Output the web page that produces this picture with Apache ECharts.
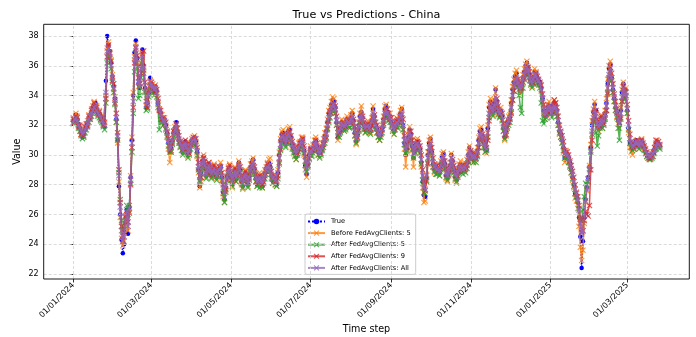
<!DOCTYPE html>
<html>
<head>
<meta charset="utf-8">
<script src="https://cdn.jsdelivr.net/npm/echarts@6.0.0/dist/echarts.min.js"></script>
<style>html,body{margin:0;padding:0;background:#fff}#c{width:696px;height:337px}</style>
</head>
<body>
<div id="c"></div>
<script>
// x values are day offsets from 01/01/2024 (one value per day)
const tickDays = [0,60,121,182,244,305,366,425];
const tickLabels = ['01/01/2024','01/03/2024','01/05/2024','01/07/2024','01/09/2024','01/11/2024','01/01/2025','01/03/2025'];
const yTicks = [22,24,26,28,30,32,34,36,38];
const seriesNames = ['True','Before FedAvgClients: 5','After FedAvgClients: 5','After FedAvgClients: 9','After FedAvgClients: All'];

const trueVals = [
32.3,32.5,32.7,32.4,32.1,31.8,31.5,31.2,31.4,31.7,
31.9,32.2,32.5,32.7,32.9,33.2,33.4,33.5,33.1,32.9,
32.8,32.6,32.4,32.2,31.9,35.0,38.0,37.4,37.0,36.2,
35.3,34.6,33.8,32.4,31.0,27.9,26.0,24.3,23.4,24.0,
25.5,26.3,24.7,26.5,28.5,31.0,34.0,36.9,37.7,36.5,
34.8,34.5,36.0,37.1,36.0,34.5,33.2,33.5,34.2,35.2,
34.8,34.6,34.4,34.6,34.3,33.5,33.0,32.8,32.5,32.3,
32.4,32.0,31.5,30.8,30.2,30.5,31.0,31.5,31.8,32.2,
31.5,31.0,30.8,30.5,30.2,30.6,30.9,30.5,30.0,30.3,
30.7,31.0,31.1,31.2,30.9,30.2,29.0,27.9,28.8,29.6,
29.9,29.3,28.6,29.0,29.4,29.0,28.6,28.9,29.2,28.8,
28.5,28.9,29.1,29.3,28.5,27.5,27.0,27.8,28.6,29.0,
29.2,28.5,28.0,28.6,29.0,28.4,28.8,29.5,29.0,28.2,
27.9,28.5,28.8,28.3,28.0,28.6,29.2,29.5,29.7,29.0,
28.4,28.0,28.3,28.6,28.2,27.9,28.4,28.8,29.1,29.3,
29.5,29.2,28.6,28.3,28.5,28.2,28.0,28.8,30.0,31.0,
31.4,31.5,31.2,30.8,31.2,31.6,31.7,31.2,30.7,30.4,
30.2,29.9,30.3,30.6,30.8,31.0,31.1,30.3,29.3,28.7,
29.4,30.0,30.4,30.2,30.5,30.8,31.0,30.6,30.2,30.0,
30.3,30.6,30.9,31.3,31.6,32.2,32.8,33.0,33.4,33.7,
33.6,33.2,32.2,31.2,31.5,31.9,32.2,32.0,31.8,32.1,
32.4,32.2,32.0,32.5,32.8,32.3,31.5,30.9,31.4,32.0,
32.6,32.9,32.5,32.0,31.7,31.9,32.1,31.8,31.6,32.3,
33.1,32.6,32.0,31.7,31.4,31.2,31.5,31.8,32.4,33.1,
33.3,32.9,32.6,32.6,32.2,31.9,31.6,32.0,32.3,32.1,
32.4,32.8,33.1,32.0,30.8,30.0,30.4,31.2,31.7,31.4,
30.6,29.8,30.3,30.8,30.9,30.6,30.4,29.5,28.2,27.3,
27.2,28.5,30.0,30.8,31.1,30.2,29.4,29.0,29.3,28.9,
29.1,28.8,29.4,29.9,30.1,29.4,28.6,28.4,28.8,29.3,
30.0,29.6,29.0,28.5,28.3,28.8,29.2,29.4,29.1,29.0,
29.3,29.1,29.5,30.0,30.5,30.2,29.9,29.7,30.0,29.8,
30.3,31.0,31.6,31.7,31.3,30.8,30.4,30.3,31.8,33.2,
33.6,33.3,32.9,33.5,34.4,33.6,33.0,32.8,33.0,32.6,
31.8,31.2,31.6,32.2,32.4,32.5,33.5,34.4,34.9,35.3,
35.5,35.0,34.6,34.3,34.8,35.2,35.6,36.0,36.2,35.9,
35.4,35.0,34.8,35.2,35.6,35.5,35.2,35.0,34.9,34.5,
33.8,33.0,32.6,32.8,33.2,33.4,33.2,32.8,33.3,33.5,
33.4,33.0,32.2,31.6,31.4,31.0,30.5,29.8,30.2,30.0,
29.8,29.5,29.0,28.5,28.0,27.4,27.2,26.8,25.8,24.5,
22.4,24.2,25.8,27.0,27.8,28.5,29.2,30.5,32.0,32.9,
33.4,33.0,32.0,31.8,32.2,32.5,32.0,32.3,32.8,33.5,
34.8,35.8,36.1,35.2,34.4,33.8,33.2,32.8,32.3,32.0,
33.0,34.2,34.8,34.0,34.4,33.0,31.8,30.8,30.7,30.4,
30.6,30.8,31.0,30.8,30.6,30.9,31.0,30.7,30.5,30.2,
30.0,29.9,29.8,29.9,30.0,30.1,30.4,30.7,30.9,30.7,30.6
];

const beforeFed5 = [
32.5,32.3,32.8,32.6,32.0,31.9,31.4,31.3,31.5,31.8,
32.0,32.3,32.7,32.6,33.1,33.3,33.6,33.4,33.3,32.8,
33.0,32.6,32.5,32.1,32.1,34.0,37.2,37.6,36.8,36.4,
35.4,34.4,33.9,32.2,30.8,28.2,25.8,24.4,23.9,24.2,
25.2,26.0,24.9,26.2,28.6,31.2,34.2,36.6,37.5,36.2,
34.6,34.8,36.2,36.9,35.7,34.3,33.3,33.7,34.4,35.0,
34.6,34.8,34.2,34.7,34.1,33.4,33.1,32.6,32.7,32.2,
32.5,31.8,31.3,30.4,29.5,30.2,31.1,31.6,31.9,32.1,
31.3,30.9,30.6,30.6,30.1,30.8,30.7,30.3,29.9,30.5,
30.8,31.1,31.0,31.3,30.7,29.9,28.8,27.8,28.2,29.7,
30.0,29.1,28.5,29.2,29.5,28.8,28.5,29.1,29.4,28.6,
28.4,29.1,29.2,29.5,28.2,27.2,26.8,27.6,28.8,29.2,
29.4,28.3,27.8,28.7,29.2,28.2,29.0,29.6,28.8,28.0,
27.7,28.6,29.0,28.1,27.9,28.8,29.4,29.6,29.8,28.8,
28.2,27.9,28.5,28.8,28.0,27.8,28.6,29.0,29.2,29.5,
29.7,29.8,28.5,28.1,28.6,28.0,27.9,29.0,30.2,31.1,
31.6,31.7,31.0,30.6,31.4,31.8,31.9,31.0,30.5,30.2,
30.0,29.7,30.5,30.8,30.9,31.2,31.2,30.0,29.0,28.5,
29.6,30.2,30.6,30.0,30.7,31.0,31.2,30.4,30.0,29.9,
30.5,30.8,31.1,31.5,31.8,32.4,33.0,33.2,33.6,33.9,
33.8,33.0,32.0,31.0,31.7,32.1,32.4,31.8,31.7,32.3,
32.6,32.0,31.9,32.7,33.0,32.1,31.3,30.7,31.6,32.2,
32.8,33.3,32.4,31.8,31.5,32.1,32.3,31.6,31.5,32.5,
33.3,32.4,31.8,31.5,31.2,31.0,31.7,32.0,32.6,33.3,
33.4,32.8,32.4,32.8,32.0,31.7,31.4,32.2,32.5,31.9,
32.6,33.0,33.2,31.7,30.4,29.2,30.2,31.4,31.9,31.2,
30.3,29.2,30.5,31.0,31.1,30.4,30.2,29.2,27.8,26.8,
26.9,28.7,30.2,31.0,31.2,30.0,29.2,28.8,29.4,28.7,
29.2,28.6,29.6,30.1,30.2,29.2,28.4,28.2,29.0,29.5,
30.1,29.4,28.8,28.3,28.1,29.0,29.4,29.6,29.0,28.9,
29.5,29.0,29.7,30.2,30.6,30.0,29.7,29.5,30.2,29.7,
30.5,31.2,31.8,31.9,31.2,30.6,30.2,30.1,32.0,33.4,
33.8,33.1,32.7,33.7,34.5,33.4,32.8,32.6,33.2,32.4,
31.6,31.0,31.8,32.4,32.6,32.7,33.7,34.6,35.1,35.5,
35.7,34.8,34.4,34.1,35.0,35.4,35.8,36.1,36.3,35.8,
35.2,34.8,34.6,35.4,35.8,35.6,35.0,34.8,34.7,34.3,
33.6,32.8,32.4,32.9,33.4,33.6,33.0,32.6,33.4,33.7,
33.5,32.8,32.0,31.4,31.2,30.8,30.2,29.5,30.3,29.9,
29.6,29.3,28.8,28.3,27.8,27.1,26.9,26.4,25.2,23.8,
22.9,23.6,25.4,26.8,27.6,28.4,29.3,30.7,32.3,33.1,
33.6,32.8,31.8,31.6,32.3,32.7,31.8,32.4,33.0,33.8,
35.1,36.0,36.3,35.0,34.2,33.6,33.0,32.6,32.1,31.8,
33.2,34.4,34.9,33.8,34.5,32.8,31.5,30.5,30.2,30.0,
30.4,30.7,31.0,30.7,30.4,30.9,31.1,30.6,30.4,30.1,
29.9,29.8,29.7,29.9,30.1,30.2,30.5,30.8,31.0,30.6,30.5
];

const afterFed5 = [
32.1,32.3,32.4,32.2,31.8,31.6,31.3,31.1,31.2,31.5,
31.7,32.0,32.2,32.5,32.6,32.9,33.1,33.2,32.8,32.6,
32.5,32.3,32.2,31.9,31.7,33.5,36.2,36.9,36.5,35.8,
34.9,34.2,33.4,32.2,31.0,28.8,27.0,25.6,24.9,25.0,
25.8,26.6,26.0,26.6,28.1,30.2,32.8,35.6,36.8,35.9,
33.8,34.0,35.2,36.3,35.5,34.2,33.0,33.1,33.9,34.6,
34.4,34.2,34.0,34.3,33.9,33.2,31.7,32.4,32.2,32.0,
32.1,31.7,31.2,30.6,30.2,30.2,30.7,31.2,31.5,31.8,
31.3,30.8,30.5,30.3,30.0,30.3,30.6,30.2,29.8,30.0,
30.4,30.7,30.8,30.9,30.6,30.0,29.0,28.2,28.5,29.1,
29.5,29.0,28.4,28.7,29.1,28.7,28.4,28.6,28.9,28.5,
28.3,28.6,28.8,29.0,28.3,27.4,26.8,27.5,28.3,28.7,
28.9,28.3,27.9,28.3,28.7,28.2,28.5,29.1,28.8,28.1,
27.8,28.2,28.5,28.1,27.8,28.3,28.8,29.1,29.3,28.7,
28.2,27.9,28.0,27.8,27.9,27.8,28.1,28.4,28.7,29.0,
29.1,28.9,28.4,28.1,28.2,28.0,27.9,28.4,29.4,30.3,
30.8,31.0,30.8,30.5,30.8,31.1,31.2,30.8,30.4,30.1,
29.9,29.7,30.0,30.2,30.4,30.6,30.7,30.1,29.3,28.9,
29.2,29.7,30.0,29.9,30.1,30.4,30.6,30.3,30.0,29.8,
30.0,30.3,30.5,30.8,31.1,31.7,32.2,32.5,32.8,33.1,
33.1,32.8,32.0,31.3,31.2,31.5,31.8,31.7,31.6,31.7,
32.0,31.9,31.8,32.1,32.3,31.9,31.3,30.8,31.1,31.6,
32.1,32.4,32.1,31.7,31.5,31.6,31.7,31.5,31.4,31.9,
32.5,32.2,31.7,31.5,31.2,31.0,31.2,31.5,32.0,32.5,
32.7,32.5,32.3,32.2,31.9,31.6,31.4,31.7,31.9,31.8,
32.0,32.3,32.5,31.7,30.7,30.1,30.3,30.8,31.2,31.0,
30.4,29.8,30.1,30.4,30.5,30.3,30.1,29.4,28.3,27.5,
27.4,28.3,29.5,30.2,30.5,29.9,29.2,28.9,28.7,28.7,
28.8,28.6,29.0,29.4,29.6,29.1,28.5,28.3,28.6,28.9,
29.5,29.2,28.8,28.4,28.2,28.5,28.8,29.0,28.8,28.7,
28.9,28.8,29.1,29.5,29.9,29.8,29.6,29.5,29.6,29.5,
29.9,30.5,31.0,31.2,30.9,30.5,30.2,30.3,31.2,32.5,
33.0,32.9,32.6,33.0,33.6,33.2,32.7,32.5,32.6,32.3,
31.6,31.1,31.3,31.8,32.0,32.2,32.9,33.7,34.3,34.7,
34.9,34.6,34.0,33.2,32.8,34.5,35.1,35.4,35.6,35.4,
35.0,34.7,34.5,34.8,35.1,35.1,34.8,34.7,34.5,33.5,
32.3,32.1,32.4,32.5,32.8,33.0,32.8,32.5,32.9,33.0,
32.9,32.6,32.0,31.5,31.2,30.8,30.3,29.8,29.9,29.7,
29.5,29.2,28.8,28.4,27.9,27.4,27.2,26.9,26.4,25.8,
25.5,26.3,27.2,28.1,28.0,28.2,29.0,30.2,31.4,32.2,
32.6,31.5,30.6,31.3,31.8,32.1,31.8,32.0,32.4,33.0,
34.2,35.1,35.6,35.0,34.2,33.6,33.0,32.5,31.8,31.0,
32.4,33.6,34.2,33.7,33.9,32.8,31.7,30.8,30.5,30.3,
30.4,30.6,30.7,30.6,30.4,30.6,30.7,30.5,30.3,30.1,
29.9,29.8,29.7,29.7,29.8,29.9,30.1,30.4,30.6,30.5,30.4
];

const afterFed9 = [
32.4,32.2,32.6,32.5,31.9,32.0,31.4,31.6,31.3,31.9,
32.1,31.9,32.6,32.4,33.0,33.1,33.5,33.3,33.2,32.7,
32.9,32.4,32.5,32.0,32.2,33.8,36.6,37.4,36.9,36.3,
35.0,34.8,33.5,32.8,31.5,29.0,26.8,25.2,24.3,24.8,
25.9,26.0,25.5,26.1,28.0,30.5,33.2,36.2,37.2,36.7,
35.2,34.8,35.5,36.8,37.0,34.9,33.6,33.2,34.3,34.7,
34.9,34.3,34.6,34.3,34.4,33.8,33.0,33.0,32.4,32.5,
32.1,32.2,31.6,31.1,30.6,30.3,30.8,31.6,31.5,32.1,
31.8,31.3,30.9,30.8,30.4,30.4,31.0,30.7,30.2,30.1,
30.7,30.8,31.2,31.0,31.1,30.5,29.5,28.6,28.5,29.3,
29.8,29.6,28.9,28.8,29.5,29.2,28.8,28.7,29.3,29.0,
28.7,28.8,29.2,29.0,28.8,28.0,27.6,27.7,28.4,29.1,
29.3,28.8,28.3,28.4,29.1,28.7,28.6,29.2,29.2,28.6,
28.3,28.4,28.9,28.6,28.2,28.4,28.9,29.4,29.3,29.2,
28.7,28.3,28.1,28.6,28.5,28.0,28.2,28.6,28.9,29.4,
29.2,29.3,28.9,28.6,28.3,28.5,28.3,28.6,29.5,30.4,
31.0,31.4,31.3,30.9,30.9,31.3,31.6,31.3,30.9,30.6,
30.5,30.2,30.1,30.4,30.8,30.8,31.1,30.6,29.9,29.4,
29.3,29.8,30.4,30.4,30.3,30.6,31.0,30.8,30.4,30.2,
30.1,30.4,30.7,31.0,31.2,31.8,32.3,32.9,33.0,33.3,
33.5,33.3,32.6,31.8,31.4,31.7,32.0,32.2,32.0,31.9,
32.2,32.4,32.2,32.3,32.5,32.4,31.9,31.3,31.2,31.7,
32.2,32.6,32.6,32.2,31.9,31.8,32.1,32.0,31.8,32.0,
32.6,32.7,32.2,32.0,31.6,31.5,31.4,31.7,32.1,32.6,
33.0,33.1,32.8,32.4,32.5,32.1,31.8,31.9,32.3,32.4,
32.2,32.5,32.7,32.4,31.3,30.7,30.5,30.9,31.4,31.6,
31.0,30.4,30.2,30.5,30.9,30.8,30.6,30.0,29.0,28.2,
27.6,28.2,29.4,30.2,30.7,30.5,29.8,29.4,29.2,29.3,
29.0,29.1,29.2,29.5,29.8,29.6,29.1,28.7,28.7,29.0,
29.5,29.7,29.3,28.9,28.6,28.6,28.9,29.2,29.3,29.1,
29.0,29.2,29.3,29.6,30.0,30.3,30.1,29.9,29.8,30.0,
30.0,30.5,31.0,31.4,31.4,31.1,30.7,30.5,31.0,32.3,
33.0,33.4,33.1,33.1,33.6,33.8,33.3,32.9,32.7,32.8,
32.1,31.4,31.4,31.9,32.2,32.4,32.8,33.7,34.3,34.8,
35.1,35.1,34.8,34.5,34.5,34.9,35.2,35.5,35.8,35.9,
35.6,35.2,34.9,34.9,35.2,35.5,35.3,35.1,34.9,34.7,
34.1,33.4,32.9,32.7,32.9,33.2,33.3,33.0,32.9,33.7,
33.5,33.2,32.6,32.0,31.6,31.3,30.9,30.3,30.0,30.2,
30.0,29.6,29.3,28.9,28.5,28.0,27.5,27.2,26.6,25.7,
24.8,24.9,25.6,26.2,26.0,25.9,26.6,29.0,31.0,32.3,
32.9,33.0,32.4,32.0,31.9,32.6,32.3,32.1,32.5,33.0,
34.1,35.2,35.9,35.5,34.8,34.1,33.6,33.1,32.6,32.2,
32.5,33.6,34.6,34.3,34.0,33.4,32.3,31.4,30.9,30.6,
30.5,30.7,30.9,31.0,30.7,30.7,31.0,30.8,30.6,30.4,
30.2,30.0,29.8,29.8,29.9,30.2,30.5,31.0,30.7,30.9,30.7
];

const afterFedAll = [
32.2,32.4,32.5,32.3,32.0,31.8,31.6,31.4,31.5,31.7,
31.9,32.1,32.4,32.6,32.8,33.0,33.2,33.3,33.0,32.8,
32.7,32.5,32.3,32.1,32.0,34.2,37.0,37.2,36.8,36.0,
35.2,34.5,33.7,32.5,31.3,28.6,26.5,24.9,24.2,24.5,
25.6,26.2,25.2,26.4,28.3,30.8,33.6,36.4,37.3,36.4,
34.9,34.6,35.8,36.7,35.9,34.5,33.4,33.5,34.1,34.9,
34.7,34.5,34.4,34.5,34.2,33.6,33.1,32.8,32.5,32.3,
32.3,32.0,31.5,30.9,30.4,30.5,30.9,31.4,31.7,32.0,
31.5,31.1,30.8,30.6,30.3,30.6,30.8,30.5,30.1,30.3,
30.6,30.9,31.0,31.1,30.9,30.3,29.2,28.3,28.8,29.4,
29.7,29.3,28.7,29.0,29.3,29.0,28.7,28.9,29.1,28.8,
28.6,28.9,29.0,29.2,28.6,27.8,27.4,27.9,28.5,28.9,
29.1,28.6,28.2,28.6,28.9,28.5,28.8,29.3,29.0,28.4,
28.1,28.5,28.7,28.4,28.1,28.5,29.0,29.3,29.5,29.0,
28.5,28.2,28.3,28.5,28.3,28.1,28.4,28.7,29.0,29.2,
29.3,29.1,28.7,28.4,28.5,28.3,28.2,28.8,29.8,30.7,
31.2,31.3,31.1,30.8,31.1,31.4,31.5,31.1,30.7,30.5,
30.3,30.1,30.3,30.5,30.7,30.9,31.0,30.4,29.6,29.1,
29.5,30.0,30.3,30.2,30.4,30.7,30.9,30.6,30.3,30.1,
30.3,30.5,30.8,31.1,31.4,32.0,32.5,32.8,33.1,33.4,
33.4,33.1,32.3,31.5,31.6,31.8,32.1,32.0,31.9,32.0,
32.3,32.2,32.1,32.4,32.6,32.2,31.6,31.1,31.4,31.9,
32.4,32.7,32.4,32.0,31.8,31.9,32.0,31.8,31.7,32.2,
32.8,32.5,32.0,31.8,31.5,31.3,31.5,31.8,32.3,32.8,
33.0,32.8,32.6,32.5,32.2,31.9,31.7,32.0,32.2,32.1,
32.3,32.6,32.8,32.0,31.0,30.4,30.6,31.1,31.5,31.3,
30.7,30.1,30.4,30.7,30.8,30.6,30.4,29.7,28.6,27.8,
27.7,28.6,29.8,30.5,30.8,30.2,29.5,29.2,29.3,29.0,
29.1,28.9,29.3,29.7,29.9,29.4,28.8,28.6,28.9,29.2,
29.8,29.5,29.1,28.7,28.5,28.8,29.1,29.3,29.1,29.0,
29.2,29.1,29.4,29.8,30.2,30.1,29.9,29.8,29.9,29.8,
30.2,30.8,31.3,31.5,31.2,30.8,30.5,30.4,31.5,32.8,
33.3,33.2,32.9,33.3,33.9,33.5,33.0,32.8,32.9,32.6,
31.9,31.4,31.6,32.1,32.3,32.5,33.2,34.0,34.6,35.0,
35.2,34.9,34.6,34.4,34.7,35.1,35.4,35.7,35.9,35.7,
35.3,35.0,34.8,35.1,35.4,35.4,35.1,35.0,34.8,34.4,
33.8,33.1,32.7,32.8,33.1,33.3,33.1,32.8,33.2,33.3,
33.2,32.9,32.3,31.8,31.5,31.1,30.6,30.1,30.2,30.0,
29.8,29.5,29.1,28.7,28.2,27.7,27.4,27.0,26.3,25.4,
24.7,24.9,25.9,26.9,27.7,28.4,29.1,30.3,31.6,32.5,
33.0,32.8,32.1,31.9,32.1,32.4,32.1,32.3,32.7,33.3,
34.5,35.4,35.8,35.2,34.5,33.9,33.3,32.9,32.4,32.1,
32.8,33.9,34.5,34.0,34.2,33.1,32.0,31.1,30.8,30.5,
30.6,30.8,30.9,30.8,30.6,30.8,30.9,30.7,30.5,30.3,
30.1,30.0,29.9,29.9,30.0,30.1,30.3,30.6,30.8,30.7,30.6
];

const allSeries = [trueVals, beforeFed5, afterFed5, afterFed9, afterFedAll];
const lens = allSeries.map(a => a.length);
if (lens.some(l => l !== lens[0])) { throw new Error('length mismatch ' + lens.join(',')); }

const colors = ['#0000ff', '#ff7f0e', '#2ca02c', '#d62728', '#9467bd'];
const xMark = 'path://M0,1.3L1.3,0L5,3.7L8.7,0L10,1.3L6.3,5L10,8.7L8.7,10L5,6.3L1.3,10L0,8.7L3.7,5Z';

const L = 43.7, R = 689.3, T = 24.3, B = 279;

function pairs(arr) { return arr.map((v, i) => [i, v]); }

const series = [{
  type: 'line', name: '__grid', data: [], silent: true, z: 0,
  markLine: {
    silent: true, symbol: ['none', 'none'], label: { show: false }, animation: false,
    lineStyle: { color: '#d2d2d2', type: [3, 2], width: 0.8 },
    emphasis: { disabled: true },
    data: tickDays.map(d => ({ xAxis: d })).concat(yTicks.map(v => ({ yAxis: v })))
  }
}];
seriesNames.forEach((name, k) => {
  const isTrue = k === 0;
  series.push({
    type: 'line', name: name, data: pairs(allSeries[k]), z: 2 + k,
    showSymbol: true, showAllSymbol: true,
    symbol: isTrue ? 'circle' : xMark,
    symbolSize: isTrue ? 4.5 : 6,
    lineStyle: { color: colors[k], width: 1.5, type: isTrue ? 'dotted' : 'solid', opacity: isTrue ? 1 : 0.8 },
    itemStyle: { color: colors[k], opacity: isTrue ? 1 : 0.8 },
    emphasis: { disabled: true },
    animation: false
  });
});

const chart = echarts.init(document.getElementById('c'), null, { renderer: 'canvas' });
chart.setOption({
  animation: false,
  backgroundColor: '#ffffff',
  textStyle: { fontFamily: 'DejaVu Sans' },
  grid: { left: L, right: 696 - R, top: T, bottom: 337 - B, containLabel: false },
  xAxis: {
    type: 'value', min: -22.7, max: 472.6,
    axisLine: { show: false },
    splitLine: { show: false },
    axisTick: { show: true, customValues: tickDays, length: 3.5, lineStyle: { color: '#000', width: 0.8 } },
    axisLabel: {
      customValues: tickDays, rotate: 45, margin: 5, fontSize: 8, color: '#000', fontFamily: 'DejaVu Sans',
      formatter: v => tickLabels[tickDays.indexOf(Math.round(v))] || ''
    }
  },
  yAxis: {
    type: 'value', min: 21.66, max: 38.79,
    axisLine: { show: false },
    splitLine: { show: false },
    axisTick: { show: true, customValues: yTicks, length: 3.5, lineStyle: { color: '#000', width: 0.8 } },
    axisLabel: { customValues: yTicks, margin: 5, fontSize: 8, color: '#000', fontFamily: 'DejaVu Sans' }
  },
  legend: {
    data: seriesNames, orient: 'vertical', left: 305, top: 214,
    itemWidth: 17, itemHeight: 7, itemGap: 4.6, padding: [4, 5, 3, 2],
    backgroundColor: 'rgba(255,255,255,0.85)', borderColor: '#cccccc', borderWidth: 1, borderRadius: 2,
    textStyle: { fontSize: 6.7, color: '#000', fontFamily: 'DejaVu Sans', padding: [0, 0, 0, 1] },
    selectedMode: false
  },
  graphic: [
    { type: 'rect', z: 100, silent: true, shape: { x: L, y: T, width: R - L, height: B - T }, style: { fill: null, stroke: '#000', lineWidth: 0.9 } },
    { type: 'text', z: 100, x: (L + R) / 2, y: 15, style: { text: 'True vs Predictions - China', fontSize: 11.2, fontFamily: 'DejaVu Sans', fill: '#000', align: 'center', verticalAlign: 'middle' } },
    { type: 'text', z: 100, x: (L + R) / 2, y: 329, style: { text: 'Time step', fontSize: 9.6, fontFamily: 'DejaVu Sans', fill: '#000', align: 'center', verticalAlign: 'middle' } },
    { type: 'text', z: 100, x: 17, y: (T + B) / 2, rotation: Math.PI / 2, style: { text: 'Value', fontSize: 9.6, fontFamily: 'DejaVu Sans', fill: '#000', align: 'center', verticalAlign: 'middle' } }
  ],
  series: series
});
</script>
</body>
</html>
